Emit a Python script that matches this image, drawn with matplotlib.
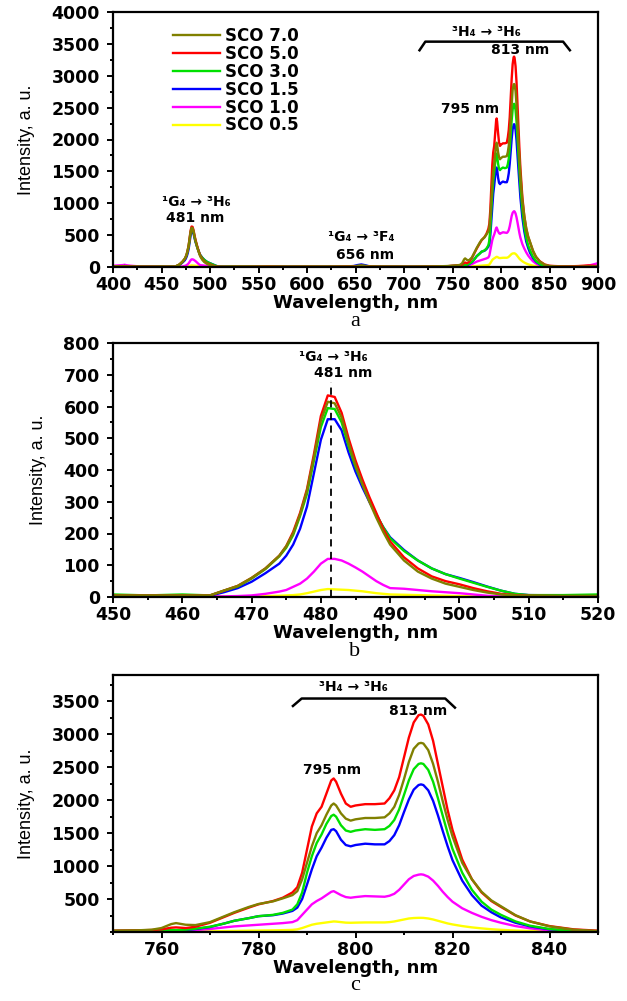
import matplotlib
matplotlib.use("Agg")
import matplotlib.pyplot as plt
from matplotlib.ticker import MultipleLocator, FixedLocator

# ---------------- data ----------------
LABELS = ["SCO 7.0", "SCO 5.0", "SCO 3.0", "SCO 1.5", "SCO 1.0", "SCO 0.5"]
COLORS = ["#808000", "#ff0000", "#00e000", "#0000ff", "#ff00ff", "#ffff00"]

# 1G4 -> 3H6 band (blue region)
WL_BLUE = [450, 455, 460, 464, 466, 468, 470, 472, 474, 475, 476, 477, 478, 479, 480,
           481, 482, 483, 484, 485, 486, 487, 488, 489, 490, 492, 494, 496, 498, 500,
           502, 504, 506, 508, 510, 515, 520]
OLIVE_BLUE = [5, 5, 5, 5, 20, 35, 60, 90, 130, 160, 200, 260, 335, 440, 555, 615, 610, 565, 485,
              415, 355, 300, 250, 205, 165, 115, 80, 58, 42, 32, 22, 14, 8, 5, 4, 3, 3]
RED_BLUE = [5, 5, 5, 5, 20, 35, 60, 90, 130, 160, 205, 265, 340, 450, 570, 635, 630, 580, 500,
            430, 370, 315, 265, 215, 175, 125, 90, 65, 50, 40, 28, 18, 10, 6, 4, 3, 3]
GREEN_BLUE = [8, 5, 8, 5, 20, 33, 58, 88, 128, 155, 195, 255, 325, 430, 535, 595, 592, 550, 475,
              410, 355, 305, 260, 220, 185, 145, 115, 90, 72, 58, 45, 32, 20, 10, 6, 6, 8]
BLUE_BLUE = [5, 5, 5, 4, 15, 28, 48, 75, 105, 130, 165, 215, 285, 390, 495, 560, 560, 525, 455,
             395, 345, 300, 258, 220, 188, 148, 115, 90, 72, 60, 47, 33, 20, 10, 6, 5, 4]
MAGENTA_BLUE = [3, 3, 3, 2, 2, 3, 5, 10, 17, 22, 32, 42, 58, 80, 105, 120, 120, 115, 105,
                93, 80, 65, 50, 38, 28, 26, 22, 18, 15, 12, 8, 4, 2, 1, 1, 1, 1]
YELLOW_BLUE = [1, 1, 1, 1, 1, 1, 2, 3, 4, 5, 6, 8, 12, 17, 22, 25, 24, 23, 22,
               20, 18, 15, 12, 10, 8, 7, 6, 5, 4, 3, 2, 2, 1, 1, 1, 1, 1]

# 3H4 -> 3H6 band (NIR region)
WL_NIR = [750, 755, 758, 760, 762, 763, 765, 767, 770, 773, 775, 778, 780, 783, 785,
          787, 788, 789, 790, 791, 792, 793, 794, 795, 795.5, 796, 797, 798, 799, 800,
          802, 804, 806, 807, 808, 809, 810, 811, 812, 813, 813.5, 814, 815, 816, 817,
          818, 819, 820, 822, 824, 826, 828, 830, 833, 836, 840, 845, 850]
OLIVE_NIR = [20, 25, 35, 60, 120, 135, 110, 105, 150, 240, 300, 380, 425, 465, 510,
             560, 620, 800, 1050, 1300, 1500, 1620, 1780, 1920, 1950, 1920, 1800, 1720, 1690, 1710,
             1730, 1730, 1740, 1800, 1900, 2080, 2320, 2580, 2780, 2860, 2870, 2860, 2760, 2550, 2280,
             1980, 1700, 1450, 1050, 800, 610, 480, 390, 255, 160, 85, 35, 15]
RED_NIR = [20, 25, 30, 40, 65, 70, 60, 80, 140, 230, 290, 370, 420, 470, 520,
           600, 680, 900, 1250, 1600, 1800, 1900, 2100, 2300, 2330, 2280, 2100, 1950, 1900, 1920,
           1940, 1940, 1950, 2030, 2150, 2350, 2650, 2950, 3180, 3290, 3300, 3280, 3150, 2900, 2550,
           2200, 1850, 1550, 1100, 800, 600, 470, 380, 250, 160, 90, 40, 20]
GREEN_NIR = [15, 20, 20, 25, 30, 30, 35, 50, 80, 130, 170, 210, 240, 260, 290,
             340, 420, 600, 900, 1150, 1350, 1480, 1640, 1760, 1780, 1750, 1620, 1540, 1520, 1540,
             1560, 1550, 1560, 1610, 1700, 1860, 2080, 2300, 2470, 2550, 2560, 2550, 2460, 2280, 2030,
             1760, 1500, 1260, 900, 640, 460, 340, 260, 160, 95, 45, 15, 8]
BLUE_NIR = [15, 18, 20, 22, 25, 25, 30, 45, 75, 130, 170, 210, 240, 255, 280,
            320, 370, 500, 720, 950, 1150, 1280, 1430, 1550, 1560, 1530, 1400, 1320, 1300, 1320,
            1340, 1330, 1330, 1380, 1470, 1620, 1820, 2010, 2160, 2230, 2240, 2230, 2150, 1990, 1770,
            1530, 1300, 1090, 780, 560, 400, 300, 220, 140, 85, 40, 15, 8]
MAGENTA_NIR = [10, 12, 12, 15, 20, 20, 20, 30, 45, 70, 85, 100, 110, 125, 135,
               150, 180, 260, 340, 420, 470, 510, 560, 610, 620, 600, 560, 530, 520, 530,
               545, 540, 535, 550, 580, 640, 720, 800, 850, 870, 875, 870, 840, 780, 700,
               610, 530, 460, 360, 290, 230, 180, 140, 90, 55, 25, 10, 5]
YELLOW_NIR = [3, 3, 4, 5, 5, 5, 6, 8, 10, 14, 16, 20, 22, 25, 28,
              32, 40, 60, 85, 110, 125, 135, 145, 155, 160, 158, 150, 142, 140, 142,
              145, 145, 145, 150, 160, 175, 190, 205, 212, 215, 215, 214, 205, 190, 170,
              150, 130, 115, 90, 70, 55, 42, 33, 22, 15, 8, 4, 2]

# baseline regions (only in the full-range panel)
WL_PRE = [400, 405, 410, 412, 414, 418, 425, 435, 445]
OLIVE_PRE = [10, 8, 8, 12, 8, 6, 5, 5, 5]
RED_PRE = [10, 8, 10, 15, 10, 8, 6, 5, 5]
GREEN_PRE = [10, 8, 10, 15, 10, 8, 6, 5, 5]
BLUE_PRE = [10, 8, 10, 15, 10, 8, 6, 5, 5]
MAGENTA_PRE = [20, 25, 30, 35, 28, 20, 12, 8, 5]
YELLOW_PRE = [3, 3, 3, 4, 3, 3, 2, 2, 1]

WL_MID = [525, 540, 560, 580, 600, 620, 640, 648, 652, 656, 660, 664, 672, 690, 710, 730, 745]
OLIVE_MID = [5, 5, 6, 5, 5, 5, 6, 8, 12, 15, 12, 8, 6, 5, 5, 8, 15]
RED_MID = [5, 5, 8, 5, 6, 5, 8, 10, 15, 20, 15, 10, 6, 5, 5, 8, 12]
GREEN_MID = [8, 8, 8, 5, 6, 5, 8, 10, 18, 25, 18, 10, 6, 5, 5, 8, 12]
BLUE_MID = [5, 5, 6, 5, 5, 5, 8, 15, 30, 40, 28, 12, 6, 5, 5, 6, 10]
MAGENTA_MID = [2, 2, 3, 2, 2, 2, 4, 6, 10, 15, 10, 6, 3, 2, 2, 4, 8]
YELLOW_MID = [1, 1, 1, 1, 1, 1, 2, 3, 5, 6, 5, 3, 2, 1, 1, 2, 3]

WL_POST = [855, 860, 870, 880, 890, 895, 900]
OLIVE_POST = [10, 8, 6, 6, 8, 8, 8]
RED_POST = [15, 12, 10, 15, 25, 20, 15]
GREEN_POST = [5, 5, 5, 5, 8, 10, 12]
BLUE_POST = [5, 5, 5, 5, 6, 8, 8]
MAGENTA_POST = [3, 3, 3, 5, 20, 40, 60]
YELLOW_POST = [1, 1, 1, 1, 2, 2, 3]

BLUE_SET = [OLIVE_BLUE, RED_BLUE, GREEN_BLUE, BLUE_BLUE, MAGENTA_BLUE, YELLOW_BLUE]
NIR_SET = [OLIVE_NIR, RED_NIR, GREEN_NIR, BLUE_NIR, MAGENTA_NIR, YELLOW_NIR]
PRE_SET = [OLIVE_PRE, RED_PRE, GREEN_PRE, BLUE_PRE, MAGENTA_PRE, YELLOW_PRE]
MID_SET = [OLIVE_MID, RED_MID, GREEN_MID, BLUE_MID, MAGENTA_MID, YELLOW_MID]
POST_SET = [OLIVE_POST, RED_POST, GREEN_POST, BLUE_POST, MAGENTA_POST, YELLOW_POST]

# ---------------- figure ----------------
plt.rcParams['font.family'] = ['DejaVu Sans']
fig = plt.figure(figsize=(6.27, 10.01), dpi=100)

W, H = 627.0, 1001.0
def ax_rect(l, t, r, b):
    return [l / W, 1 - b / H, (r - l) / W, (b - t) / H]

ax_a = fig.add_axes(ax_rect(113, 12, 598, 267))
ax_b = fig.add_axes(ax_rect(113, 343, 598, 597))
ax_c = fig.add_axes(ax_rect(113, 675, 598, 932))

LW = 1.7
order = [5, 4, 3, 2, 1, 0]  # draw yellow first, olive on top

full_wl = WL_PRE + WL_BLUE + WL_MID + WL_NIR + WL_POST
for i in order:
    full_y = PRE_SET[i] + BLUE_SET[i] + MID_SET[i] + NIR_SET[i] + POST_SET[i]
    ax_a.plot(full_wl, full_y, color=COLORS[i], lw=LW, label=LABELS[i])
    ax_b.plot(WL_BLUE, BLUE_SET[i], color=COLORS[i], lw=LW)
    ax_c.plot(WL_NIR, NIR_SET[i], color=COLORS[i], lw=LW)


def style(ax, xlim, ylim, xmaj, xmin, ymaj, ymin, yticks=None):
    ax.set_xlim(*xlim)
    ax.set_ylim(*ylim)
    ax.xaxis.set_major_locator(MultipleLocator(xmaj))
    ax.xaxis.set_minor_locator(MultipleLocator(xmin))
    if yticks is not None:
        ax.yaxis.set_major_locator(FixedLocator(yticks))
    else:
        ax.yaxis.set_major_locator(MultipleLocator(ymaj))
    ax.yaxis.set_minor_locator(MultipleLocator(ymin))
    for s in ax.spines.values():
        s.set_linewidth(1.6)
    ax.tick_params(which='both', direction='out', top=False, right=False, width=1.4)
    ax.tick_params(which='major', length=4.5)
    ax.tick_params(axis='x', which='major', pad=2)
    ax.tick_params(axis='y', which='major', pad=5)
    ax.tick_params(which='minor', length=2.5)
    ax.set_xlabel("Wavelength, nm", fontsize=13, fontweight='bold', labelpad=0)
    ax.set_ylabel("Intensity, a. u.", fontsize=13,
                  family=['Liberation Sans Narrow', 'Liberation Sans'], labelpad=12)
    for lab in ax.get_xticklabels() + ax.get_yticklabels():
        lab.set_fontsize(12.5)
        lab.set_fontweight('bold')

style(ax_a, (400, 900), (0, 4000), 50, 25, 500, 250)
style(ax_b, (450, 520), (0, 800), 10, 5, 100, 50)
style(ax_c, (750, 850), (0, 3900), 20, 10, 500, 250,
      yticks=[500, 1000, 1500, 2000, 2500, 3000, 3500])

# legend
handles, labels = ax_a.get_legend_handles_labels()
handles, labels = handles[::-1], labels[::-1]
ax_a.legend(handles, labels, loc='upper left', bbox_to_anchor=(0.124, 0.94),
            frameon=False, borderpad=0, borderaxespad=0, handlelength=2.8,
            handletextpad=0.3, labelspacing=-0.01,
            prop=dict(size=12, weight='bold'))

ann = dict(fontsize=10, fontweight='bold', ha='center', va='center')

# panel a annotations
ax_a.text(486, 1020, "¹G₄ → ³H₆", **ann)
ax_a.text(485, 770, "481 nm", **ann)
ax_a.text(656, 475, "¹G₄ → ³F₄", **ann)
ax_a.text(660, 190, "656 nm", **ann)
ax_a.text(785, 3690, "³H₄ → ³H₆", **ann)
ax_a.text(820, 3400, "813 nm", **ann)
ax_a.text(768, 2480, "795 nm", **ann)
ax_a.plot([716, 722, 864, 871], [3400, 3535, 3535, 3400], color='black', lw=1.8)

# panel b annotations
ax_b.text(481.8, 757, "¹G₄ → ³H₆", **ann)
ax_b.text(483.2, 705, "481 nm", **ann)
ax_b.plot([481.5, 481.5], [0, 676], color='black', lw=1.3, ls=(0, (4, 3)))

# panel c annotations
ax_c.text(799.5, 3715, "³H₄ → ³H₆", **ann)
ax_c.text(812.9, 3353, "813 nm", **ann)
ax_c.text(795.1, 2462, "795 nm", **ann)
ax_c.plot([787.1, 788.9, 818.5, 820.5], [3430, 3543, 3543, 3405], color='black', lw=1.8)

# panel letters
letter = dict(fontsize=16, family=['Liberation Serif', 'DejaVu Serif'], ha='center', va='center')
fig.text(355 / W, 1 - 322 / H, "a", **letter)
fig.text(355 / W, 1 - 652 / H, "b", **letter)
fig.text(355 / W, 1 - 985 / H, "c", **letter)

fig.savefig("out.png", dpi=100)
